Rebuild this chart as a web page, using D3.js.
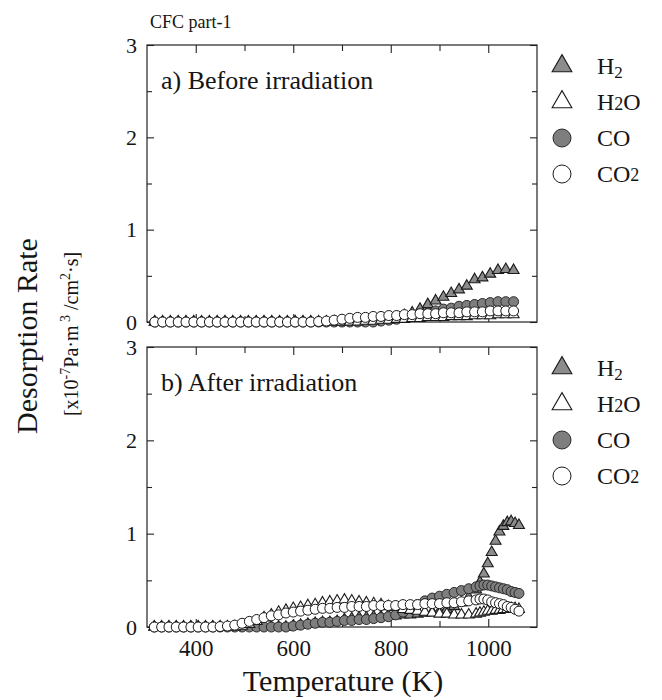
<!DOCTYPE html>
<html>
<head>
<meta charset="utf-8">
<script src="https://cdn.jsdelivr.net/npm/d3@7"></script>
<style>
    body { margin: 0; background: #fff; }
    svg text { font-family: "Liberation Serif", "DejaVu Serif", serif; fill: #151515; }
</style>
</head>
<body>
<svg id="chart" width="662" height="700"></svg>
<script>
// Desorption rate (x10^-7 Pa m3 / cm2 s) vs temperature, CFC part-1

// a) before irradiation
const tempsBefore = [316,332,348,364,380,396,412,428,444,460,476,492,508,524,540,556,572,588,604,
    620,636,652,668,684,700,716,732,748,764,780,796,812,828,844,860,876,892,908,924,
    940,956,972,988,1004,1020,1036,1052];
const h2Before = [0,0,0,0,0,0,0,0,0,0,0,0,0,0,0,0,0,0,0,
    0,0,0,0,0,0,0.01,0.01,0.02,0.02,0.03,0.04,0.05,0.07,0.1,0.14,0.19,0.23,0.27,0.31,
    0.35,0.39,0.46,0.48,0.52,0.56,0.57,0.56];
const h2oBefore = [0,0,0,0,0,0,0,0,0,0,0,0,0,0,0,0,0,0,0,
    0,0,0,0,0,0,0,0,0.01,0.01,0.02,0.02,0.03,0.03,0.04,0.04,0.05,0.05,0.05,0.06,
    0.06,0.06,0.07,0.07,0.07,0.08,0.08,0.08];
const coBefore = [0,0,0,0,0,0,0,0,0,0,0,0,0,0,0,0,0,0,0,
    0,0,0,0,0,0,0,0,0,0,0.01,0.02,0.03,0.05,0.06,0.08,0.1,0.12,0.14,0.15,
    0.17,0.18,0.19,0.2,0.21,0.22,0.22,0.22];
const co2Before = [0,0,0,0,0,0,0,0,0,0,0,0,0,0,0,0,0,0,0,
    0,0,0.005,0.01,0.02,0.03,0.04,0.05,0.05,0.06,0.06,0.07,0.07,0.08,0.08,0.09,0.09,0.09,0.1,0.1,
    0.1,0.11,0.11,0.11,0.12,0.12,0.12,0.12];

// b) after irradiation
const tempsAfter = [315,330,345,360,375,390,405,420,435,450,465,480,495,510,525,540,555,570,585,
    600,615,630,645,660,675,690,705,720,735,750,765,780,795,810,825,840,855,870,885,
    900,915,930,945,960,975,983,991,999,1007,1015,1023,1031,1039,1047,1055,1063];
const h2After = [0,0,0,0,0,0,0,0,0,0,0,0,0,0,0,0,0,0,0,
    0.01,0.02,0.03,0.04,0.05,0.05,0.06,0.08,0.09,0.1,0.1,0.11,0.11,0.12,0.12,0.13,0.13,0.14,0.15,0.16,
    0.17,0.19,0.22,0.26,0.32,0.4,0.48,0.57,0.68,0.8,0.92,1.02,1.08,1.12,1.13,1.11,1.09];
const h2oAfter = [0,0,0,0,0,0,0,0,0,0,0,0,0.01,0.03,0.06,0.1,0.13,0.16,0.18,
    0.2,0.21,0.23,0.24,0.26,0.27,0.28,0.29,0.28,0.27,0.26,0.25,0.24,0.22,0.21,0.19,0.18,0.17,0.16,0.15,
    0.14,0.14,0.13,0.13,0.13,0.14,0.15,0.16,0.17,0.17,0.18,0.18,0.19,0.19,0.2,0.2,0.19];
const coAfter = [0,0,0,0,0,0,0,0,0,0,0,0,0,0,0,0,0,0,0,
    0.01,0.02,0.03,0.04,0.05,0.05,0.06,0.07,0.07,0.08,0.08,0.09,0.1,0.11,0.13,0.16,0.2,0.24,0.28,0.31,
    0.33,0.35,0.37,0.39,0.41,0.43,0.44,0.45,0.45,0.44,0.43,0.42,0.41,0.4,0.38,0.37,0.36];
const co2After = [0,0,0,0,0,0,0,0,0,0.005,0.01,0.02,0.04,0.06,0.08,0.1,0.12,0.13,0.15,
    0.16,0.17,0.18,0.19,0.2,0.2,0.21,0.21,0.22,0.22,0.22,0.23,0.23,0.23,0.23,0.24,0.24,0.24,0.25,0.25,
    0.25,0.26,0.26,0.27,0.28,0.29,0.3,0.3,0.29,0.27,0.26,0.25,0.24,0.22,0.21,0.19,0.17];

const xTicksMajor = [400, 600, 800, 1000];
const xTicksMinor = [500, 700, 900];
const yTicksMajor = [0, 1, 2, 3];
const yTicksMinor = [0.5, 1.5, 2.5];

const svg = d3.select("#chart");
const xLeft = 147, xRight = 537;
const x = d3.scaleLinear().domain([300, 1100]).range([xLeft, xRight]);

const markers = {
    H2:  { shape: "tri",    fill: "#8c8c8c", stroke: "#1a1a1a" },
    H2O: { shape: "tri",    fill: "#ffffff", stroke: "#1a1a1a" },
    CO:  { shape: "circle", fill: "#7e7e7e", stroke: "#2a2a2a" },
    CO2: { shape: "circle", fill: "#ffffff", stroke: "#1a1a1a" }
};

const panels = [
    { top: 45, bottom: 322, label: "a) Before irradiation", temps: tempsBefore,
      series: [["H2", h2Before], ["CO", coBefore], ["H2O", h2oBefore], ["CO2", co2Before]] },
    { top: 347, bottom: 627, label: "b) After irradiation", temps: tempsAfter,
      series: [["H2", h2After], ["CO", coAfter], ["H2O", h2oAfter], ["CO2", co2After]] }
];

function drawMarker(sel, key, scale) {
    const m = markers[key];
    if (m.shape === "tri") {
        sel.append("path")
            .attr("d", d3.symbol().type(d3.symbolTriangle).size(52 * scale * scale)())
            .attr("fill", m.fill).attr("stroke", m.stroke).attr("stroke-width", 1.1);
    } else {
        sel.append("circle").attr("r", 5 * scale)
            .attr("fill", m.fill).attr("stroke", m.stroke).attr("stroke-width", 1);
    }
}

panels.forEach((p, k) => {
    const y = d3.scaleLinear().domain([0, 3]).range([p.bottom, p.top]);
    const g = svg.append("g");

    // inward ticks on all four sides
    const bottomMajor = d3.axisBottom(x).tickValues(xTicksMajor).tickSize(-8).tickPadding(13)
        .tickFormat(k === 1 ? d3.format("d") : "");
    g.append("g").attr("transform", `translate(0,${p.bottom})`).call(bottomMajor);
    g.append("g").attr("transform", `translate(0,${p.bottom})`)
        .call(d3.axisBottom(x).tickValues(xTicksMinor).tickSize(-6).tickFormat(""));
    g.append("g").attr("transform", `translate(0,${p.top})`)
        .call(d3.axisTop(x).tickValues(xTicksMajor).tickSize(-8).tickFormat(""));
    g.append("g").attr("transform", `translate(0,${p.top})`)
        .call(d3.axisTop(x).tickValues(xTicksMinor).tickSize(-6).tickFormat(""));

    const yAxis = g.append("g").attr("transform", `translate(${xLeft},0)`)
        .call(d3.axisLeft(y).tickValues(yTicksMajor).tickSize(-7).tickPadding(10).tickFormat(d3.format("d")));
    g.append("g").attr("transform", `translate(${xLeft},0)`)
        .call(d3.axisLeft(y).tickValues(yTicksMinor).tickSize(-5).tickFormat(""));
    g.append("g").attr("transform", `translate(${xRight},0)`)
        .call(d3.axisRight(y).tickValues(yTicksMajor).tickSize(-7).tickFormat(""));
    g.append("g").attr("transform", `translate(${xRight},0)`)
        .call(d3.axisRight(y).tickValues(yTicksMinor).tickSize(-5).tickFormat(""));

    g.selectAll(".domain").remove();
    g.selectAll(".tick line").attr("stroke", "#222").attr("stroke-width", 1.1);
    g.selectAll(".tick text").attr("font-size", 23).attr("fill", "#151515")
        .attr("font-family", "Liberation Serif, serif");
    yAxis.selectAll(".tick text").attr("font-size", 22);

    g.append("rect")
        .attr("x", xLeft).attr("y", p.top)
        .attr("width", xRight - xLeft).attr("height", p.bottom - p.top)
        .attr("fill", "none").attr("stroke", "#222").attr("stroke-width", 1.2);

    g.append("text").attr("x", xLeft + 14).attr("y", p.top + 44)
        .attr("font-size", 26).text(p.label);

    // data points
    p.series.forEach(([key, vals]) => {
        g.append("g").selectAll("g")
            .data(vals.map((v, i) => ({ t: p.temps[i], v })))
            .enter().append("g")
            .attr("transform", d => `translate(${x(d.t)},${y(d.v)})`)
            .each(function() { drawMarker(d3.select(this), key, 1); });
    });

    // legend
    const legend = [
        ["H2",  [["H", 0], ["2", 1]]],
        ["H2O", [["H", 0], ["2", 2], ["O", 0]]],
        ["CO",  [["CO", 0]]],
        ["CO2", [["CO", 0], ["2", 3]]]
    ];
    legend.forEach(([key, parts], i) => {
        const ly = p.top + 21 + i * 36;
        const lg = g.append("g").attr("transform", `translate(562,${ly})`);
        drawMarker(lg, key, 1.8);
        const t = g.append("text").attr("x", 597).attr("y", ly + 8).attr("font-size", 24);
        parts.forEach(([s, mode]) => {
            const ts = t.append("tspan").text(s);
            if (mode === 1) ts.attr("font-size", 17).attr("dy", 4);
            if (mode === 2) ts.attr("font-size", 18).attr("dy", 0);
            if (mode === 3) ts.attr("font-size", 18).attr("dy", -1);
        });
    });
});

// titles
svg.append("text").attr("x", 150).attr("y", 28).attr("font-size", 18).text("CFC part-1");

svg.append("text").attr("x", 343).attr("y", 691).attr("text-anchor", "middle")
    .attr("font-size", 30).text("Temperature (K)");

svg.append("text").attr("transform", "translate(37,336) rotate(-90)")
    .attr("text-anchor", "middle").attr("font-size", 30).text("Desorption Rate");

const unit = svg.append("text").attr("transform", "translate(78,334) rotate(-90)")
    .attr("text-anchor", "middle").attr("font-size", 20);
unit.append("tspan").text("[x10");
unit.append("tspan").attr("font-size", 14).attr("dy", -8).text("-7");
unit.append("tspan").attr("dy", 8).text("Pa\u00b7m");
unit.append("tspan").attr("font-size", 14).attr("dy", -8).text(" 3");
unit.append("tspan").attr("dy", 8).text(" /cm");
unit.append("tspan").attr("font-size", 14).attr("dy", -8).text("2");
unit.append("tspan").attr("dy", 8).text("\u00b7s]");
</script>
</body>
</html>
